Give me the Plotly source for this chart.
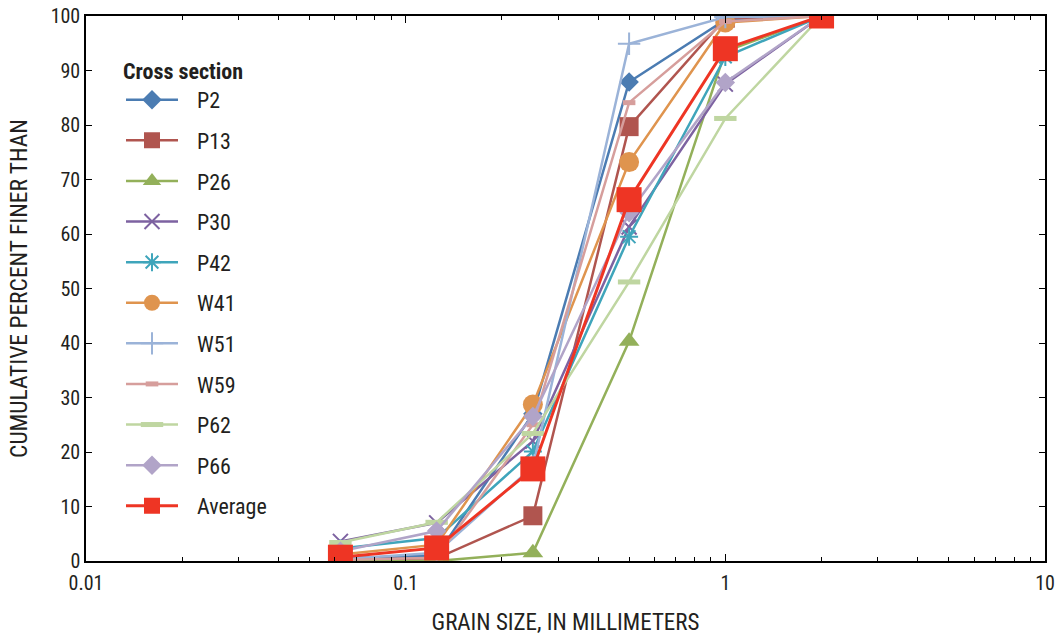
import plotly.graph_objects as go

# Grain-size classes (mm) and cumulative percent finer for each cross section
grain_size_mm = [0.0625, 0.125, 0.25, 0.5, 1, 2]

p2 = [0.5, 1.0, 27.0, 87.9, 99.3, 100]
p13 = [0.2, 0.5, 8.3, 79.7, 99.6, 100]
p26 = [0.0, 0.0, 1.5, 40.3, 93.5, 100]
p30 = [3.6, 7.0, 22.0, 61.3, 87.5, 100]
p42 = [2.3, 4.2, 20.1, 59.5, 92.5, 100]
w41 = [1.2, 3.0, 28.7, 73.2, 98.8, 100]
w51 = [0.3, 1.5, 17.3, 94.9, 99.8, 100]
w59 = [0.2, 0.6, 25.0, 84.1, 99.0, 100]
p62 = [3.4, 7.1, 23.4, 51.2, 81.2, 100]
p66 = [1.8, 5.5, 26.5, 63.9, 87.8, 100]
average = [0.7, 2.4, 16.9, 66.3, 94.0, 100]

series_names = ["P2", "P13", "P26", "P30", "P42", "W41", "W51", "W59", "P62", "P66", "Average"]
series_values = [p2, p13, p26, p30, p42, w41, w51, w59, p62, p66, average]

x_tick_values = [0.01, 0.1, 1, 10]
x_tick_labels = ["0.01", "0.1", "1", "10"]
y_tick_values = [0, 10, 20, 30, 40, 50, 60, 70, 80, 90, 100]

# Marker styling per series
styles = {
    "P2": dict(color="#4b7cb2", symbol="diamond", size=15, lw=2.5),
    "P13": dict(color="#b0554f", symbol="square", size=19, lw=2.5),
    "P26": dict(color="#93b05a", symbol="triangle-up", size=18, lw=2.5),
    "P30": dict(color="#7d62a1", symbol="x-thin-open", size=15, lw=2.5),
    "P42": dict(color="#3fa5bb", symbol="asterisk-open", size=15, lw=2.5),
    "W41": dict(color="#df944e", symbol="circle", size=20, lw=2.5),
    "W51": dict(color="#9bb3d8", symbol="cross-thin-open", size=16, lw=2.5),
    "W59": dict(color="#d69e9c", symbol="line-ew-open", size=9, lw=2.5),
    "P62": dict(color="#bfd6a1", symbol="line-ew-open", size=16, lw=2.5),
    "P66": dict(color="#b1a4c8", symbol="diamond", size=15, lw=2.5),
    "Average": dict(color="#ee3524", symbol="square", size=25, lw=3),
}

FONT = "Liberation Sans Narrow, Roboto Condensed, DejaVu Sans Condensed, Arial Narrow, sans-serif"
INK = "#231f20"
PAD = "\u2002\u2009"  # spacing between legend symbol and label

fig = go.Figure()
for name, vals in zip(series_names, series_values):
    st = styles[name]
    open_sym = st["symbol"].endswith("-open")
    marker = dict(symbol=st["symbol"], size=st["size"], color=st["color"])
    if open_sym:
        lw = 5 if st["symbol"].startswith("line-ew") else 2
        marker["line"] = dict(color=st["color"], width=lw)
    else:
        marker["line"] = dict(width=0)
    fig.add_trace(go.Scatter(
        x=grain_size_mm, y=vals, name=PAD + name, mode="lines+markers",
        line=dict(color=st["color"], width=st["lw"]),
        marker=marker, legendgroup=name,
    ))

axis_common = dict(
    showline=True, linecolor="black", linewidth=1.5, mirror="allticks",
    ticks="inside", tickcolor="black", tickwidth=1.2, showgrid=False, zeroline=False,
    tickfont=dict(family=FONT, size=20, color=INK), automargin=False,
)

minor_vals = [m * 10 ** e for e in (-2, -1, 0) for m in range(2, 10)]

fig.update_xaxes(
    type="log", range=[-2, 1], tickvals=x_tick_values, ticktext=x_tick_labels,
    ticklen=7, ticklabelstandoff=3,
    minor=dict(tickvals=minor_vals, ticks="inside", ticklen=4, tickcolor="black", tickwidth=1.2),
    title=dict(text="GRAIN SIZE, IN MILLIMETERS", font=dict(family=FONT, size=23, color=INK), standoff=20),
    **axis_common,
)
fig.update_yaxes(
    range=[0, 100], tickvals=y_tick_values, ticklen=6,
    title=dict(text="CUMULATIVE PERCENT FINER THAN", font=dict(family=FONT, size=23.5, color=INK), standoff=16),
    **axis_common,
)

fig.update_layout(
    width=1062, height=638,
    margin=dict(l=86, r=17, t=16, b=77),
    paper_bgcolor="white", plot_bgcolor="white",
    font=dict(family=FONT, size=22, color=INK),
    legend=dict(
        title=dict(text="<b>Cross section</b>", font=dict(family=FONT, size=22, color=INK)),
        x=0.0365, y=0.937, xanchor="left", yanchor="top",
        bgcolor="rgba(0,0,0,0)", itemwidth=52, tracegroupgap=9,
        font=dict(family=FONT, size=22, color=INK),
    ),
)

fig.write_html("out.html")
